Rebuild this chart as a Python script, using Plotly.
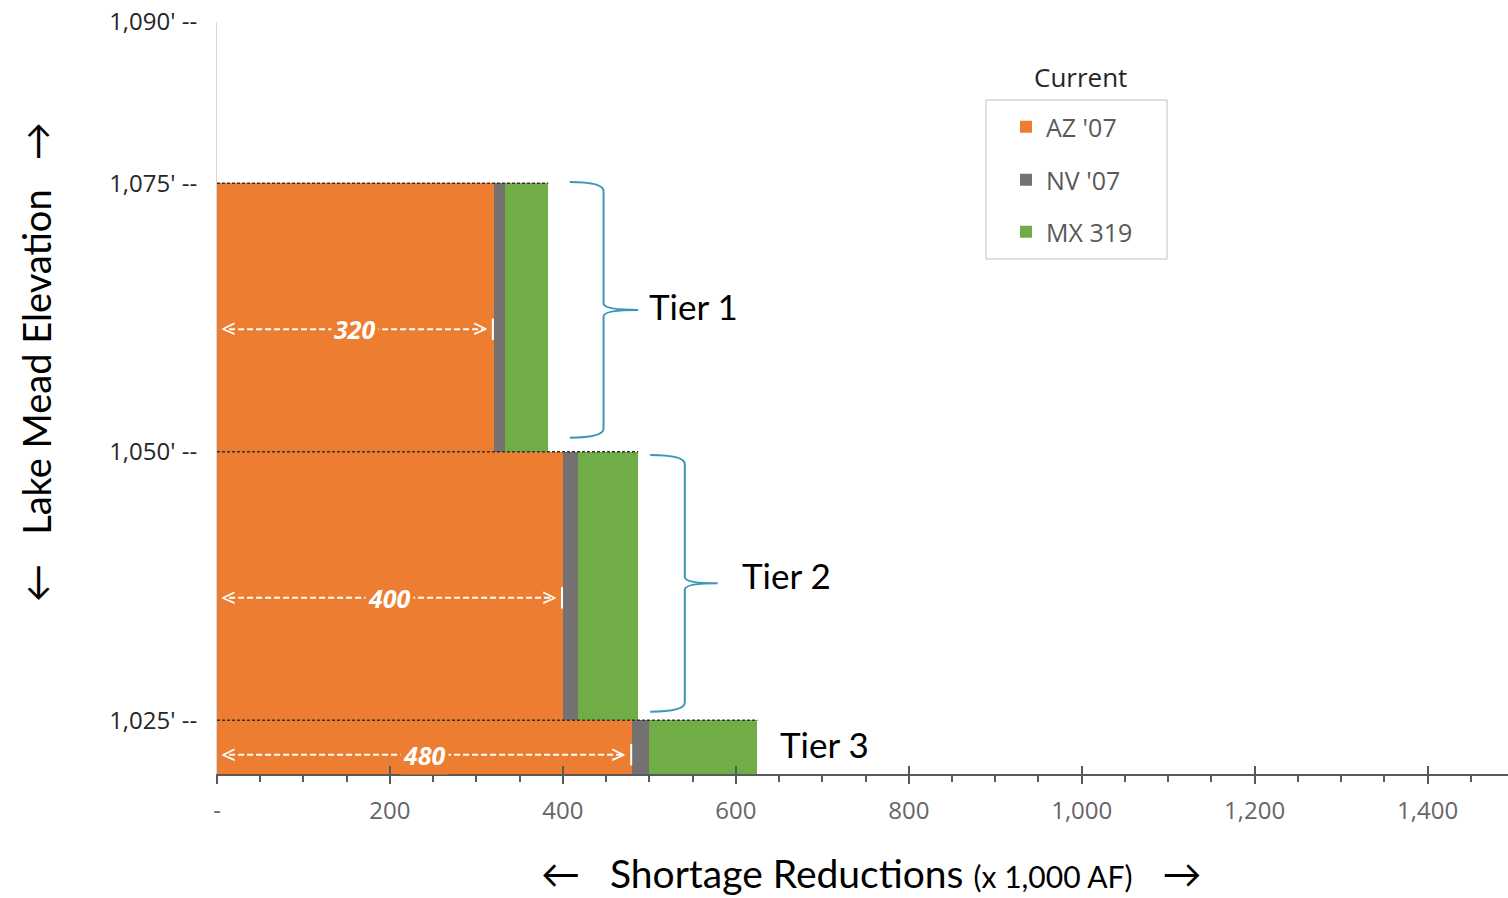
import plotly.graph_objects as go

# Shortage tiers: elevation bands (feet) and reductions (x 1,000 AF)
tiers = ["Tier 1", "Tier 2", "Tier 3"]
tier_top = [1075, 1050, 1025]
tier_bottom = [1050, 1025, 1020]
az_07 = [320, 400, 480]
nv_07 = [13, 17, 20]
mx_319 = [50, 70, 125]

series_names = ["AZ '07", "NV '07", "MX 319"]
series_values = [az_07, nv_07, mx_319]
series_colors = ["#ED7D31", "#767171", "#70AD47"]

y_tick_vals = [1025, 1050, 1075, 1090]
y_tick_text = ["1,025' --", "1,050' --", "1,075' --", "1,090' --"]
x_tick_vals = [0, 200, 400, 600, 800, 1000, 1200, 1400]
x_tick_text = ["-", "200", "400", "600", "800", "1,000", "1,200", "1,400"]

# Brace geometry (data units): start x, spine x, tip x, top, bottom
brace_x0 = [408, 501]
brace_xv = [447, 541]
brace_xt = [487, 579]
brace_top = [1075.1, 1049.7]
brace_bot = [1051.3, 1025.8]
tier_label_x = [497, 605, 649]
tier_label_shift = [11, 11, 3]

W, H = 1508, 898
ML, MR, MT, MB = 217, 0, 22, 124
X_MAX = 1493
Y_MIN, Y_MAX = 1020, 1090
PW, PH = W - ML - MR, H - MT - MB


def px_x(xp):
    return (xp - ML) / PW


def px_y(yp):
    return (H - MB - yp) / PH


TICK_FONT = "Open Sans"
TITLE_FONT = "Lato"

centers = [(t + b) / 2 for t, b in zip(tier_top, tier_bottom)]
heights = [t - b for t, b in zip(tier_top, tier_bottom)]
totals = [a + n + m for a, n, m in zip(az_07, nv_07, mx_319)]

fig = go.Figure()
legend_ids = ["legend", "legend2", "legend3"]
for name, vals, color, lid in zip(series_names, series_values, series_colors, legend_ids):
    fig.add_trace(go.Bar(
        y=centers, x=vals, width=heights, orientation="h", name=name,
        marker=dict(color=color, line=dict(width=0)), legend=lid,
        hoverinfo="x+name",
    ))

shapes = []
annotations = []

# dotted rule along the top of each tier
for top, tot in zip(tier_top, totals):
    shapes.append(dict(type="line", xref="x", yref="y", x0=0, x1=tot, y0=top, y1=top,
                       line=dict(color="#333333", width=1.5, dash="3px,2px")))

# white dimension arrows inside the AZ bars
for c, h, az in zip(centers, heights, az_07):
    ya = c - 1.1 if h > 10 else c - 0.7
    shapes.append(dict(type="line", xref="x", yref="y", x0=14, x1=az - 12, y0=ya, y1=ya,
                       line=dict(color="white", width=2, dash="6px,3px")))
    shapes.append(dict(type="line", xref="x", yref="y", x0=az - 1, x1=az - 1,
                       y0=ya - 1.0, y1=ya + 1.0, line=dict(color="white", width=2)))
    annotations.append(dict(x=0, y=ya, xref="x", yref="y", text="<", showarrow=False,
                            xanchor="left", xshift=2, yshift=1,
                            font=dict(family=TICK_FONT, size=26, color="white")))
    annotations.append(dict(x=az, y=ya, xref="x", yref="y", text=">", showarrow=False,
                            xanchor="right", xshift=-4, yshift=1,
                            font=dict(family=TICK_FONT, size=26, color="white")))
    annotations.append(dict(x=az / 2, y=ya, xref="x", yref="y",
                            text="<b><i>%d</i></b>" % az, showarrow=False,
                            bgcolor="#ED7D31", borderpad=2,
                            font=dict(family=TICK_FONT, size=25, color="white")))

# curly braces beside tiers 1 and 2
ry = 0.85
for x0, xv, xt, yt, yb in zip(brace_x0, brace_xv, brace_xt, brace_top, brace_bot):
    ym = (yt + yb) / 2
    path = (f"M {x0},{yt} Q {xv},{yt} {xv},{yt - ry} "
            f"L {xv},{ym + ry * 0.7} Q {xv},{ym} {xt},{ym} "
            f"Q {xv},{ym} {xv},{ym - ry * 0.7} "
            f"L {xv},{yb + ry} Q {xv},{yb} {x0},{yb}")
    shapes.append(dict(type="path", xref="x", yref="y", path=path,
                       line=dict(color="#3C97B7", width=2)))

# tier labels
for name, lx, c, dy in zip(tiers, tier_label_x, centers, tier_label_shift):
    annotations.append(dict(x=lx, y=c, xref="x", yref="y", text=name, showarrow=False,
                            xanchor="left", yanchor="middle", yshift=dy,
                            font=dict(family=TITLE_FONT, size=35, color="black")))

# legend frame and title
shapes.append(dict(type="rect", xref="paper", yref="paper",
                   x0=px_x(986), x1=px_x(1167), y0=px_y(259), y1=px_y(100),
                   line=dict(color="#bfbfbf", width=1)))
annotations.append(dict(x=px_x(1080), y=px_y(77), xref="paper", yref="paper",
                        xanchor="center", yanchor="middle",
                        text="Current", showarrow=False,
                        font=dict(family=TICK_FONT, size=26, color="#262626")))

# axis titles
nb = "\u00a0"
annotations.append(dict(x=px_x(36), y=px_y(362), xref="paper", yref="paper",
                        xanchor="center", yanchor="middle",
                        text="\u2190" + nb * 3 + "Lake Mead Elevation" + nb * 3 + "\u2192",
                        textangle=-90, showarrow=False,
                        font=dict(family=TITLE_FONT, size=38, color="black")))
annotations.append(dict(x=px_x(871), y=px_y(873), xref="paper", yref="paper",
                        xanchor="center", yanchor="middle",
                        text="\u2190" + nb * 3 + "Shortage Reductions "
                             "<span style='font-size:30px'>(x 1,000 AF)</span>"
                             + nb * 3 + "\u2192",
                        showarrow=False,
                        font=dict(family=TITLE_FONT, size=39, color="black")))

legend_common = dict(bgcolor="rgba(0,0,0,0)", borderwidth=0, xanchor="left", yanchor="middle",
                     font=dict(family=TICK_FONT, size=25, color="#595959"))
legend_y = [127, 180, 232]

fig.update_layout(
    width=W, height=H, autosize=False,
    margin=dict(l=ML, r=MR, t=MT, b=MB, pad=0),
    paper_bgcolor="white", plot_bgcolor="white",
    barmode="stack", bargap=0,
    showlegend=True,
    legend=dict(x=px_x(1006), y=px_y(legend_y[0]), **legend_common),
    legend2=dict(x=px_x(1006), y=px_y(legend_y[1]), **legend_common),
    legend3=dict(x=px_x(1006), y=px_y(legend_y[2]), **legend_common),
    xaxis=dict(range=[0, X_MAX], tickvals=x_tick_vals, ticktext=x_tick_text,
               showgrid=False, zeroline=False, showline=True, linecolor="#595959", linewidth=2,
               ticks="outside", ticklen=8, tickwidth=2, tickcolor="#595959",
               minor=dict(dtick=50, ticks="outside", ticklen=6, tickwidth=1.5,
                          tickcolor="#595959", showgrid=False),
               tickfont=dict(family=TICK_FONT, size=24, color="#666666"),
               ticklabelstandoff=6, fixedrange=True),
    xaxis2=dict(range=[0, X_MAX], overlaying="x", anchor="y", side="bottom",
                tickvals=x_tick_vals, showticklabels=False, showgrid=False, zeroline=False,
                showline=False, ticks="inside", ticklen=8, tickwidth=2, tickcolor="#595959"),
    yaxis=dict(range=[Y_MIN, Y_MAX], tickvals=y_tick_vals, ticktext=y_tick_text,
               showgrid=False, zeroline=False, showline=True, linecolor="#d9d9d9", linewidth=1,
               ticks="outside", ticklen=14, tickcolor="rgba(0,0,0,0)",
               tickfont=dict(family=TICK_FONT, size=24, color="#262626"), fixedrange=True),
    shapes=shapes, annotations=annotations,
)

# invisible carrier so the overlaid tick axis renders
fig.add_trace(go.Scatter(x=[0], y=[Y_MIN], xaxis="x2", mode="markers",
                         marker=dict(opacity=0), showlegend=False, hoverinfo="skip"))

fig.write_html("out.html")
